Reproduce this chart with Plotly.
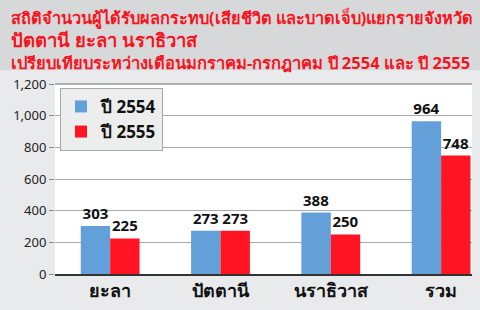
import plotly.graph_objects as go

categories = ["ยะลา", "ปัตตานี", "นราธิวาส", "รวม"]
values_2554 = [303, 273, 388, 964]
values_2555 = [225, 273, 250, 748]
series_names = ["ปี 2554", "ปี 2555"]
title_lines = [
    "สถิติจำนวนผู้ได้รับผลกระทบ(เสียชีวิต และบาดเจ็บ)แยกรายจังหวัด",
    "ปัตตานี ยะลา นราธิวาส",
    "เปรียบเทียบระหว่างเดือนมกราคม-กรกฎาคม ปี 2554 และ ปี 2555",
]
y_ticks = [0, 200, 400, 600, 800, 1000, 1200]

W, H = 480, 310
ML, MR, MT, MB = 55, 8, 84, 31
PH = H - MT - MB
PW = W - ML - MR

FONT = "Noto Sans, DejaVu Sans, sans-serif"

fig = go.Figure()
fig.add_trace(go.Bar(
    x=categories, y=values_2554, name="<b>" + series_names[0] + "</b>",
    marker=dict(color="#639fd8", line=dict(width=0)),
    text=["<b>%d</b>" % v for v in values_2554], textposition="outside",
    textfont=dict(size=15, color="#111", family=FONT),
    cliponaxis=False,
))
fig.add_trace(go.Bar(
    x=categories, y=values_2555, name="<b>" + series_names[1] + "</b>",
    marker=dict(color="#fe1423", line=dict(width=0)),
    text=["<b>%d</b>" % v for v in values_2555], textposition="outside",
    textfont=dict(size=15, color="#111", family=FONT),
    cliponaxis=False,
))

# title background band
fig.add_shape(type="rect", xref="paper", yref="paper",
              x0=-ML / PW - 0.01, x1=1 + MR / PW + 0.01,
              y0=1 + 14 / PH, y1=1 + (MT + 2) / PH,
              fillcolor="#d7d8da", line=dict(width=0), layer="below")

sizes = [16.3, 18.5, 16.5]
ys = [17, 38, 62]
for line, s, yy in zip(title_lines, sizes, ys):
    fig.add_annotation(text="<b>" + line + "</b>", xref="paper", yref="paper",
                       x=(9 - ML) / PW, y=1 + (MT - yy) / PH,
                       xanchor="left", yanchor="middle", showarrow=False,
                       font=dict(size=s, color="#f5141e", family=FONT))

fig.update_layout(
    width=W, height=H,
    margin=dict(l=ML, r=MR, t=MT, b=MB),
    paper_bgcolor="#e8eaeb",
    plot_bgcolor="white",
    barmode="group", bargap=0.467, bargroupgap=0,
    showlegend=True,
    legend=dict(x=(60 - ML) / PW, y=1 - (88 - MT) / PH, xanchor="left", yanchor="top",
                bgcolor="#eceded", bordercolor="#a8a8a8", borderwidth=1,
                font=dict(size=17, color="#111", family=FONT),
                itemwidth=30, tracegroupgap=2),
    font=dict(family=FONT),
)
fig.update_xaxes(
    range=[-0.5, 3.28], showgrid=False,
    showline=True, linecolor="#333", linewidth=1.5,
    ticks="", tickfont=dict(size=18, color="#111", family=FONT),
    tickprefix="<b>", ticksuffix="</b>",
)
fig.update_yaxes(
    range=[0, 1200], tickvals=y_ticks, tickformat=",",
    showgrid=True, gridcolor="#a9a9a9", gridwidth=1,
    ticks="outside", ticklen=5, tickcolor="#888",
    tickfont=dict(size=13, color="#222", family=FONT),
    tickprefix="<i>", ticksuffix="</i>",
    zeroline=False, mirror=False,
)
fig.add_shape(type="line", xref="paper", yref="paper", x0=0, x1=1, y0=1, y1=1,
              line=dict(color="#999", width=1.5))

fig.write_html("out.html")
